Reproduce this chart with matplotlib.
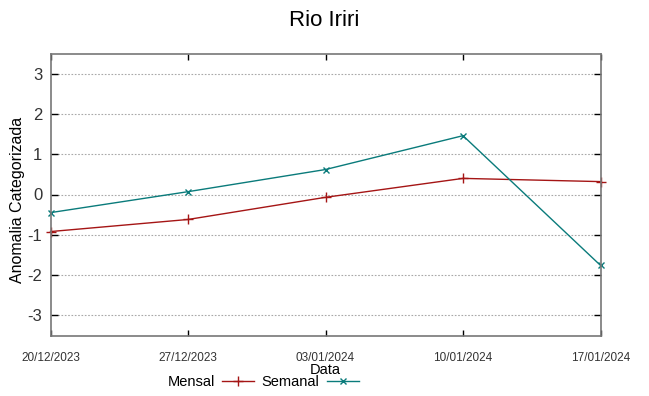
#!/usr/bin/env python3
"""Anomalia categorizada - Rio Iriri (mensal x semanal)."""

import matplotlib
matplotlib.use("Agg")
import matplotlib.pyplot as plt
import pandas as pd

dates = ["20/12/2023", "27/12/2023", "03/01/2024", "10/01/2024", "17/01/2024"]
mensal = [-0.92, -0.62, -0.07, 0.40, 0.32]
semanal = [-0.45, 0.07, 0.62, 1.46, -1.76]
y_ticks = [-3, -2, -1, 0, 1, 2, 3]

plt.rcParams["font.family"] = ["Liberation Sans", "DejaVu Sans"]

x = pd.to_datetime(dates, format="%d/%m/%Y")

W, H = 649, 396
fig = plt.figure(figsize=(W / 100, H / 100), dpi=100)
left, right, top, bottom = 50.5, 600.5, 53.5, 335.5
ax = fig.add_axes([left / W, 1 - bottom / H, (right - left) / W, (bottom - top) / H])

ax.plot(x, mensal, color="#a51515", lw=1.0, marker="+", ms=7, mew=1.0,
        label="Mensal", clip_on=False)
ax.plot(x, semanal, color="#0a7b7b", lw=1.0, marker="x", ms=5, mew=1.0,
        label="Semanal", clip_on=False)

ax.set_xlim(x[0], x[-1])
ax.set_ylim(-3.5, 3.5)
ax.set_xticks(x)
ax.set_xticklabels(dates, fontsize=8.5, color="#333333")
ax.set_yticks(y_ticks)
ax.set_yticklabels([str(v) for v in y_ticks], fontsize=12, color="#333333")
ax.tick_params(axis="x", direction="in", length=4, width=1, top=True, pad=12)
ax.tick_params(axis="y", direction="in", length=5, width=1, right=True, pad=6)
ax.grid(axis="y", color="#a8a8a8", linestyle=(0, (1.5, 1.5)), linewidth=0.8)
for s in ax.spines.values():
    s.set_color("#777777")
    s.set_linewidth(1.2)

fig.text(0.5, 1 - 20 / H, "Rio Iriri", ha="center", va="center", fontsize=16)
fig.text(18 / W, 1 - 200 / H, "Anomalia Categorizada", rotation=90,
         ha="center", va="center", fontsize=11.5)
fig.text(325 / W, 1 - 370 / H, "Data", ha="center", va="center", fontsize=10.5)

fig.legend(loc="center", bbox_to_anchor=(263 / W, 1 - 382 / H), ncol=2,
           frameon=False, markerfirst=False, fontsize=10.5, handlelength=2.2,
           columnspacing=0.5, handletextpad=0.5, borderpad=0)

fig.savefig("out.png", dpi=100)
